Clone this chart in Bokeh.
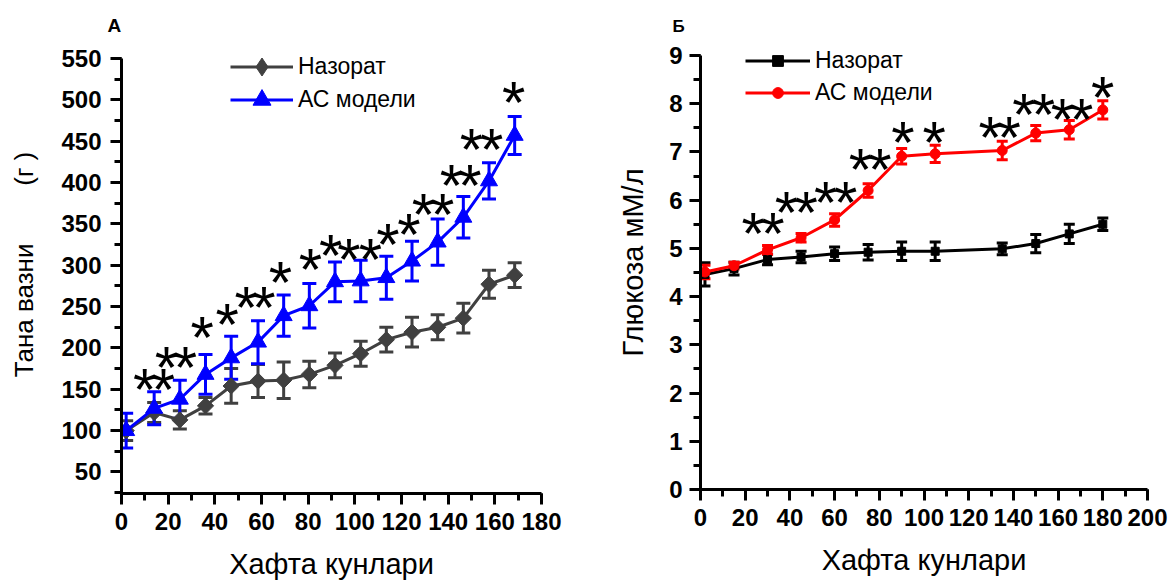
import math
from bokeh.plotting import figure
from bokeh.models import (Whisker, TeeHead, ColumnDataSource, Legend, LegendItem,
                          Range1d, SingleIntervalTicker, Title)
from bokeh.layouts import row
from bokeh.embed import file_html
from bokeh.resources import INLINE
from bokeh.core.properties import value

# ---------------- Panel А: body weight ----------------
days_a = [2, 14, 25, 36, 47, 58.5, 69.5, 80.5, 91.5, 102.5, 113.5, 124.5, 135.5, 146.5, 157.5, 168.5]
weight_ctrl = [100, 122, 113, 130, 154, 160, 161, 168, 179, 193, 210, 219, 225, 236, 277, 288]
weight_ctrl_err = [12, 12, 11, 10, 21, 20, 22, 16, 15, 15, 15, 18, 15, 18, 17, 15]
weight_model = [100, 127, 138, 168, 188, 207, 239, 251, 280, 281, 285, 305, 328, 358, 402, 457]
weight_model_err = [21, 20, 23, 24, 26, 26, 25, 27, 24, 25, 26, 24, 28, 25, 22, 23]

stars_a_x = [9.9, 18.0, 19.3, 27.4, 34.6, 45.3, 53.4, 61.0, 68.1, 81.0, 89.6, 97.5, 106.7,
             114.2, 123.2, 129.4, 137.6, 141.4, 149.3, 150.0, 158.6, 168.1]
stars_a_y = [164, 164, 191, 191, 227, 243, 263, 263, 294, 309, 326, 321, 321,
             340, 352, 376, 376, 411, 411, 455, 455, 511]

# ---------------- Panel Б: glucose ----------------
days_b = [2, 15, 30, 45, 60, 75, 90, 105, 135, 150, 165, 180]
gluc_ctrl = [4.46, 4.58, 4.77, 4.82, 4.89, 4.92, 4.94, 4.94, 4.99, 5.10, 5.30, 5.50]
gluc_ctrl_err = [0.24, 0.13, 0.11, 0.12, 0.14, 0.16, 0.19, 0.19, 0.12, 0.19, 0.20, 0.13]
gluc_model = [4.51, 4.64, 4.97, 5.22, 5.59, 6.20, 6.91, 6.96, 7.03, 7.39, 7.46, 7.87]
gluc_model_err = [0.14, 0.07, 0.09, 0.09, 0.13, 0.14, 0.16, 0.18, 0.19, 0.16, 0.19, 0.19]

stars_b_x = [23.6, 32.4, 38.4, 47.3, 56.0, 64.9, 71.6, 80.3, 90.6, 104.6,
             129.6, 138.1, 144.7, 153.4, 161.9, 170.6, 179.9]
stars_b_y = [5.55, 5.55, 5.99, 5.99, 6.20, 6.20, 6.89, 6.89, 7.45, 7.45,
             7.55, 7.55, 8.03, 8.03, 7.93, 7.93, 8.38]

legend_labels = ["Назорат", "АС модели"]

FONT = "Liberation Sans"
GRAY = "#404040"
BLUE = "#0000FF"
RED = "#FF0000"
BLACK = "#000000"


def style(p, xlabel, ylabel, xint, yint, ybounds, ylab_standoff, ytick_standoff):
    p.xaxis.ticker = SingleIntervalTicker(interval=xint, num_minor_ticks=2)
    p.yaxis.ticker = SingleIntervalTicker(interval=yint, num_minor_ticks=2)
    p.yaxis.bounds = ybounds
    p.xaxis.axis_label = xlabel
    p.yaxis.axis_label = ylabel
    for ax in (p.xaxis[0], p.yaxis[0]):
        ax.axis_line_width = 3
        ax.axis_line_color = BLACK
        ax.major_tick_line_width = 3
        ax.minor_tick_line_width = 3
        ax.major_tick_line_color = BLACK
        ax.minor_tick_line_color = BLACK
        ax.major_tick_out = 11
        ax.major_tick_in = 0
        ax.minor_tick_out = 7
        ax.minor_tick_in = 0
        ax.major_label_text_font = FONT
        ax.major_label_text_font_style = "bold"
        ax.major_label_text_font_size = "24px"
        ax.major_label_text_color = BLACK
        ax.axis_label_text_font = FONT
        ax.axis_label_text_font_style = "normal"
        ax.axis_label_text_color = BLACK
    p.xaxis.major_label_standoff = 8
    p.xaxis.axis_label_standoff = 15
    p.xaxis.axis_label_text_font_size = "29px"
    p.yaxis.major_label_standoff = ytick_standoff
    p.yaxis.axis_label_standoff = ylab_standoff
    p.xgrid.visible = False
    p.ygrid.visible = False
    p.outline_line_color = None


def add_series(p, x, y, err, color, marker, msize, angle, cap, legend_marker=None):
    src = ColumnDataSource(dict(x=x, y=y,
                                lo=[a - b for a, b in zip(y, err)],
                                hi=[a + b for a, b in zip(y, err)]))
    lr = p.line("x", "y", source=src, line_color=color, line_width=3)
    w = Whisker(base="x", upper="hi", lower="lo", source=src, line_color=color, line_width=3,
                upper_head=TeeHead(size=cap, line_color=color, line_width=3),
                lower_head=TeeHead(size=cap, line_color=color, line_width=3))
    p.add_layout(w)
    rends = [lr]
    if legend_marker is not None:
        # diamond that sits fully under the rotated square; used for the legend swatch
        rends.append(p.scatter("x", "y", source=src, marker=legend_marker, size=msize * 1.3,
                               fill_color=color, line_color=color))
    sr = p.scatter("x", "y", source=src, marker=marker, size=msize, angle=angle,
                   fill_color=color, line_color=color)
    if legend_marker is None:
        rends.append(sr)
    return rends


def add_stars(p, xs, ys):
    src = ColumnDataSource(dict(x=xs, y=ys, t=["*"] * len(xs)))
    p.text("x", "y", text="t", source=src, text_font=value(FONT), text_font_size="60px",
           text_align="center", text_baseline="alphabetic", y_offset=12, text_color=BLACK)


def make_legend(items, loc, gw, gh, spacing):
    return Legend(items=items, location=loc, glyph_width=gw, glyph_height=gh,
                  label_height=gh, label_standoff=5, spacing=spacing, padding=0, margin=0,
                  border_line_alpha=0, background_fill_alpha=0,
                  label_text_font=FONT, label_text_font_size="23px", label_text_color=BLACK)


# ---------- Figure А ----------
# frame spans pixel rows 35..493; axis drawn only from 24 to 550
pa = figure(frame_width=420, frame_height=458, x_range=Range1d(0, 180),
            y_range=Range1d(24, 577.8),
            output_backend="svg", toolbar_location=None,
            min_border_left=121, min_border_right=44, min_border_top=35, min_border_bottom=88)
pa.title = Title(text="А", text_font=FONT, text_font_style="bold", text_font_size="19px",
                 text_color=BLACK, align="left", offset=-14, standoff=0)
style(pa, "Хафта кунлари", "Тана вазни\u00a0\u00a0\u00a0\u00a0\u00a0\u00a0\u00a0\u00a0(г )",
      20, 50, (24, 550), 19, 9)
pa.yaxis.axis_label_text_font_size = "26px"

ra1 = add_series(pa, days_a, weight_ctrl, weight_ctrl_err, GRAY, "square", 11.5, math.pi / 4, 14,
                 legend_marker="diamond")
ra2 = add_series(pa, days_a, weight_model, weight_model_err, BLUE, "triangle", 17, 0, 14)
add_stars(pa, stars_a_x, stars_a_y)

pa.add_layout(make_legend([LegendItem(label=legend_labels[0], renderers=ra1)],
                          (109, 404), 63, 45, 0))
pa.add_layout(make_legend([LegendItem(label=legend_labels[1], renderers=ra2)],
                          (109, 371), 63, 45, 0))

# ---------- Figure Б ----------
# frame spans pixel rows 35..489; axis drawn only from 0 to 9
pb = figure(frame_width=447, frame_height=454, x_range=Range1d(0, 200),
            y_range=Range1d(0, 9.414),
            output_backend="svg", toolbar_location=None,
            min_border_left=115, min_border_right=23, min_border_top=35, min_border_bottom=92)
pb.title = Title(text="Б", text_font=FONT, text_font_style="bold", text_font_size="17px",
                 text_color=BLACK, align="left", offset=-28, standoff=0)
style(pb, "Хафта кунлари", "Глюкоза мМ/л", 20, 1, (0, 9), 17, 7)
pb.yaxis.axis_label_text_font_size = "29px"

rb1 = add_series(pb, days_b, gluc_ctrl, gluc_ctrl_err, BLACK, "square", 8, 0, 11)
rb2 = add_series(pb, days_b, gluc_model, gluc_model_err, RED, "circle", 10, 0, 11)
add_stars(pb, stars_b_x, stars_b_y)

pb.add_layout(make_legend([LegendItem(label=legend_labels[0], renderers=rb1),
                           LegendItem(label=legend_labels[1], renderers=rb2)],
                          (45, 383), 65, 27, 5))

layout = row(pa, pb, spacing=0)
open("out.html", "w").write(file_html(layout, INLINE))
